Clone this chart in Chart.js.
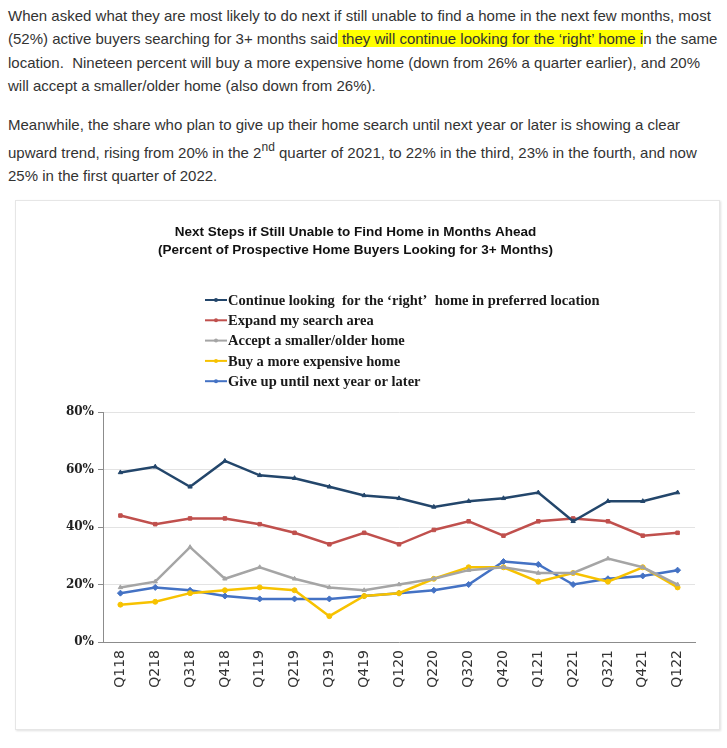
<!DOCTYPE html>
<html>
<head>
<meta charset="utf-8">
<script src="https://cdn.jsdelivr.net/npm/chart.js@4.4.1/dist/chart.umd.min.js"></script>
<style>
  body { margin:0; background:#fff; }
  #txt { position:absolute; left:8px; top:4px; width:715px; font-family:'Liberation Sans', Arial, sans-serif; font-size:15px; line-height:23.4px; color:#333; white-space:nowrap; }
  #txt p { margin:0 0 15px 0; }
  .hl { background:#ffff00; }
  .supline { margin-top:5px; }
  sup { font-size:12px; vertical-align:7px; line-height:12px; }
  #frame { position:absolute; left:15px; top:200px; width:703px; height:528px; border:1px solid #e6e6e6; box-shadow:1px 1px 2px #e0e0e0; background:#fff; }
</style>
</head>
<body>
<div id="txt">
<p>When asked what they are most likely to do next if still unable to find a home in the next few months, most<br>(52%) active buyers searching for 3+ months said<span class="hl"> they will continue looking for the ‘right’ home i</span>n the same<br>location.&nbsp; Nineteen percent will buy a more expensive home (down from 26% a quarter earlier), and 20%<br>will accept a smaller/older home (also down from 26%).</p>
<p>Meanwhile, the share who plan to give up their home search until next year or later is showing a clear<span class="supline" style="display:block">upward trend, rising from 20% in the 2<sup>nd</sup> quarter of 2021, to 22% in the third, 23% in the fourth, and now</span>25% in the first quarter of 2022.</p>
</div>
<div id="frame"><canvas id="chart" width="703" height="528"></canvas></div>
<script>
const quarters = ['Q118','Q218','Q318','Q418','Q119','Q219','Q319','Q419','Q120','Q220','Q320','Q420','Q121','Q221','Q321','Q421','Q122']
const continueLooking = [59,61,54,63,58,57,54,51,50,47,49,50,52,42,49,49,52]
const expandSearch    = [44,41,43,43,41,38,34,38,34,39,42,37,42,43,42,37,38]
const acceptSmaller   = [19,21,33,22,26,22,19,18,20,22,25,26,24,24,29,26,20]
const buyExpensive    = [13,14,17,18,19,18,9,16,17,22,26,26,21,24,21,26,19]
const giveUp          = [17,19,18,16,15,15,15,16,17,18,20,28,27,20,22,23,25]
const seriesNames = [
  "Continue looking  for the ‘right’  home in preferred location",
  'Expand my search area',
  'Accept a smaller/older home',
  'Buy a more expensive home',
  'Give up until next year or later'
]

function makeSet(label, data, color, style, r){
  return {
    label: label,
    data: data,
    borderColor: color,
    backgroundColor: color,
    borderWidth: 2.5,
    pointStyle: style,
    pointRadius: r,
    pointBorderWidth: 1,
    tension: 0
  }
}

// legend drawn as a vertical list, like the original picture
const listLegend = {
  id: 'listLegend',
  afterDraw(chart){
    const ctx = chart.ctx
    ctx.save()
    ctx.font = 'bold 14.5px "Liberation Serif", serif'
    ctx.textBaseline = 'middle'
    chart.data.datasets.forEach(function(ds, i){
      const y = 99 + i * 20.3
      ctx.strokeStyle = ds.borderColor
      ctx.lineWidth = 2
      ctx.beginPath()
      ctx.moveTo(189, y)
      ctx.lineTo(211, y)
      ctx.stroke()
      ctx.fillStyle = ds.borderColor
      ctx.beginPath()
      ctx.arc(200, y, 2, 0, Math.PI * 2)
      ctx.fill()
      ctx.fillStyle = '#1a1a1a'
      ctx.fillText(ds.label, 212, y + 1)
    })
    ctx.restore()
  }
}

const ctx = document.getElementById('chart').getContext('2d')
const chart = new Chart(ctx, {
  type: 'line',
  data: {
    labels: quarters,
    datasets: [
      makeSet(seriesNames[0], continueLooking, '#23466b', 'triangle', 2.5),
      makeSet(seriesNames[1], expandSearch, '#c0504d', 'rect', 2.5),
      makeSet(seriesNames[2], acceptSmaller, '#a5a5a5', 'triangle', 2.5),
      makeSet(seriesNames[3], buyExpensive, '#f7c200', 'circle', 2.5),
      makeSet(seriesNames[4], giveUp, '#4472c4', 'rectRot', 3)
    ]
  },
  plugins: [listLegend],
  options: {
    responsive: false,
    animation: false,
    layout: { padding: { left: 0, right: 24, top: 0, bottom: 0 } },
    plugins: {
      legend: { display: false },
      tooltip: { enabled: false },
      title: {
        display: true,
        text: ['Next Steps if Still Unable to Find Home in Months Ahead', '(Percent of Prospective Home Buyers Looking for 3+ Months)'],
        color: '#111',
        font: { family: '"Liberation Sans", Arial, sans-serif', size: 13.5, weight: 'bold', lineHeight: 1.3 },
        padding: { top: 23, bottom: 153 }
      }
    },
    scales: {
      x: {
        offset: true,
        grid: { display: false, drawTicks: false },
        border: { color: '#8c8c8c', width: 1 },
        ticks: {
          minRotation: 90, maxRotation: 90, padding: 8,
          color: '#333',
          font: { family: '"DejaVu Sans", sans-serif', size: 14 }
        },
        afterFit: function(s){ s.height = 87 }
      },
      y: {
        min: 0, max: 80,
        grid: { color: '#e3e3e3', tickLength: 5, tickColor: '#8c8c8c' },
        border: { color: '#8c8c8c', width: 1 },
        ticks: {
          stepSize: 20, padding: 4,
          color: '#222',
          font: { family: '"DejaVu Serif", serif', size: 12, weight: 'bold' },
          callback: function(v){ return v + '%' }
        },
        afterFit: function(s){ s.width = 87 }
      }
    }
  }
})
</script>
</body>
</html>
